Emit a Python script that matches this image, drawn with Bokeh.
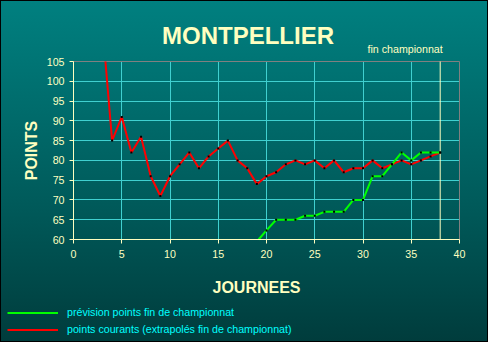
import math
import numpy as np
from bokeh.plotting import figure
from bokeh.models import (Label, Legend, LegendItem, FixedTicker, Range1d)
from bokeh.embed import file_html
from bokeh.resources import INLINE

# ---- data ----
journees_courant = list(range(1, 39))
points_courants = [114, 114, 114, 85, 91, 82, 86, 76, 71, 76,
                   79, 82, 78, 81, 83, 85, 80, 78, 74, 76,
                   77, 79, 80, 79, 80, 78, 80, 77, 78, 78,
                   80, 78, 79, 80, 79, 80, 81, 82]
journees_prevision = list(range(19, 39))
points_prevision = [59.5, 62.3, 65, 65, 65, 66, 66, 67, 67, 67,
                    70, 70, 76, 76, 79, 82, 80, 82, 82, 82]
x_ticks = [0, 5, 10, 15, 20, 25, 30, 35, 40]
y_ticks = [60, 65, 70, 75, 80, 85, 90, 95, 100, 105]
fin_championnat = 38

# ---- layout (canvas pixels) ----
W, H = 488, 342
PL, PR, PT, PB = 73, 459, 61, 239   # plot area edges
YEL = "#ffffc0"
FONT = "Liberation Sans"

xa0, xa1 = x_ticks[0], x_ticks[-1]
ya0, ya1 = y_ticks[0], y_ticks[-1]
kx = (PR - PL) / (xa1 - xa0)
ky = (PB - PT) / (ya1 - ya0)
x_range = Range1d(xa0 - PL / kx, xa1 + (W - PR) / kx)
y_range = Range1d(ya0 - (H - PB) / ky, ya1 + PT / ky)


def clip_y(xs, ys, lo, hi):
    """clip a polyline to lo <= y <= hi (NaN breaks where it leaves)"""
    ox, oy = [], []
    for i in range(len(xs) - 1):
        x0, y0, x1, y1 = xs[i], ys[i], xs[i + 1], ys[i + 1]
        t0, t1 = 0.0, 1.0
        dy = y1 - y0
        ok = True
        for bound, sign in ((lo, 1), (hi, -1)):
            # constraint sign*(y - bound) >= 0
            f0 = sign * (y0 - bound)
            fd = sign * dy
            if fd == 0:
                if f0 < 0:
                    ok = False
            else:
                t = -f0 / fd
                if fd > 0:
                    t0 = max(t0, t)
                else:
                    t1 = min(t1, t)
        if not ok or t0 > t1:
            if ox and not math.isnan(ox[-1]):
                ox.append(float("nan")); oy.append(float("nan"))
            continue
        ax_, ay_ = x0 + t0 * (x1 - x0), y0 + t0 * dy
        bx_, by_ = x0 + t1 * (x1 - x0), y0 + t1 * dy
        if ox and not math.isnan(ox[-1]) and (abs(ox[-1] - ax_) > 1e-9 or abs(oy[-1] - ay_) > 1e-9):
            ox.append(float("nan")); oy.append(float("nan"))
        if not ox or math.isnan(ox[-1]):
            ox.append(ax_); oy.append(ay_)
        ox.append(bx_); oy.append(by_)
    return ox, oy


def inside(xs, ys, lo, hi):
    pts = [(x, y) for x, y in zip(xs, ys) if lo <= y <= hi]
    return [a for a, _ in pts], [b for _, b in pts]


p = figure(width=W, height=H, output_backend="svg", toolbar_location=None,
           x_range=x_range, y_range=y_range, title=None,
           min_border=0, min_border_left=0, min_border_right=0,
           min_border_top=0, min_border_bottom=0)
p.background_fill_alpha = 0
p.border_fill_alpha = 0
p.outline_line_color = None
p.styles = {"background": "linear-gradient(to bottom, #008080 0%, #005a5a 60%, #003c3c 100%)",
            "box-shadow": "inset 0 0 0 1px #000000"}

# axes at the plot-area edges
for ax in (p.xaxis[0], p.yaxis[0]):
    ax.axis_line_color = YEL
    ax.major_tick_line_color = YEL
    ax.major_tick_out = 4
    ax.major_tick_in = 0
    ax.minor_tick_line_color = None
    ax.major_label_text_color = YEL
    ax.major_label_text_font = FONT
    ax.major_label_text_font_size = "10.67px"
p.xaxis.ticker = FixedTicker(ticks=x_ticks)
p.yaxis.ticker = FixedTicker(ticks=y_ticks)
p.xaxis.fixed_location = ya0
p.yaxis.fixed_location = xa0
p.xaxis.bounds = (xa0, xa1)
p.yaxis.bounds = (ya0, ya1)
p.xaxis.major_label_standoff = 6
p.yaxis.major_label_standoff = 5

# grid
grid_ok = True
try:
    p.xgrid[0].cross_bounds = (ya0, ya1)
    p.ygrid[0].cross_bounds = (xa0, xa1)
    p.xgrid[0].bounds = (xa0, xa1)
    p.ygrid[0].bounds = (ya0, ya1)
except Exception:
    grid_ok = False
if grid_ok:
    p.xgrid.ticker = FixedTicker(ticks=x_ticks[1:-1])
    p.ygrid.ticker = FixedTicker(ticks=y_ticks[1:-1])
    for g in (p.xgrid[0], p.ygrid[0]):
        g.grid_line_color = "#40d0d0"
        g.grid_line_width = 1
else:
    p.xgrid.visible = False
    p.ygrid.visible = False
    gx = x_ticks[1:-1]
    gy = y_ticks[1:-1]
    p.segment(x0=gx, y0=[ya0] * len(gx), x1=gx, y1=[ya1] * len(gx),
              line_color="#40d0d0", line_width=1)
    p.segment(x0=[xa0] * len(gy), y0=gy, x1=[xa1] * len(gy), y1=gy,
              line_color="#40d0d0", line_width=1)

# plot-area border (top/right grey; left/bottom covered by axes)
p.quad(left=[xa0], right=[xa1], bottom=[ya0], top=[ya1],
       fill_alpha=0, line_color="#808080", line_width=1)
# end of championship marker
p.segment(x0=[fin_championnat], y0=[ya0], x1=[fin_championnat], y1=[ya1],
          line_color=YEL, line_width=1)

cx, cy = clip_y(journees_courant, points_courants, ya0, ya1)
gxs, gys = clip_y(journees_prevision, points_prevision, ya0, ya1)
r_red = p.line(cx, cy, line_color="#ff0000", line_width=2)
r_green = p.line(gxs, gys, line_color="#00ff00", line_width=2)
mx, my = inside(journees_courant, points_courants, ya0, ya1)
p.scatter(mx, my, marker="square", size=2, fill_color="black", line_color=None)
mx, my = inside(journees_prevision, points_prevision, ya0, ya1)
p.scatter(mx, my, marker="square", size=2, fill_color="black", line_color=None)

# texts (screen units from the bottom-left of the canvas)
p.add_layout(Label(x=247.5, y=H - 35, x_units="screen", y_units="screen",
                   text="MONTPELLIER", text_align="center", text_baseline="alphabetic",
                   text_font=FONT, text_font_style="bold", text_font_size="24px",
                   text_color=YEL))
p.add_layout(Label(x=367, y=H - 48.3, x_units="screen", y_units="screen",
                   text="fin championnat", text_align="left", text_baseline="alphabetic",
                   text_font=FONT, text_font_size="10.67px", text_color=YEL))
p.add_layout(Label(x=31, y=H - 150, x_units="screen", y_units="screen",
                   text="POINTS", text_align="center", text_baseline="alphabetic",
                   angle=math.pi / 2,
                   text_font=FONT, text_font_style="bold", text_font_size="16px",
                   text_color=YEL))
p.add_layout(Label(x=256, y=H - 286.7, x_units="screen", y_units="screen",
                   text="JOURNEES", text_align="center", text_baseline="alphabetic",
                   text_font=FONT, text_font_style="bold", text_font_size="16px",
                   text_color=YEL))

legend = Legend(items=[
    LegendItem(label="prévision points fin de championnat", renderers=[r_green]),
    LegendItem(label="points courants (extrapolés fin de championnat)", renderers=[r_red]),
], location=(7, 4.5))
legend.background_fill_alpha = 0
legend.border_line_alpha = 0
legend.margin = 0
legend.padding = 0
legend.spacing = 0
legend.glyph_width = 51
legend.glyph_height = 17
legend.label_height = 17
legend.label_standoff = 9
legend.label_text_font = FONT
legend.label_text_font_size = "10.67px"
legend.label_text_color = "#00ffff"
p.add_layout(legend, "center")

open("out.html", "w").write(file_html(p, INLINE))
